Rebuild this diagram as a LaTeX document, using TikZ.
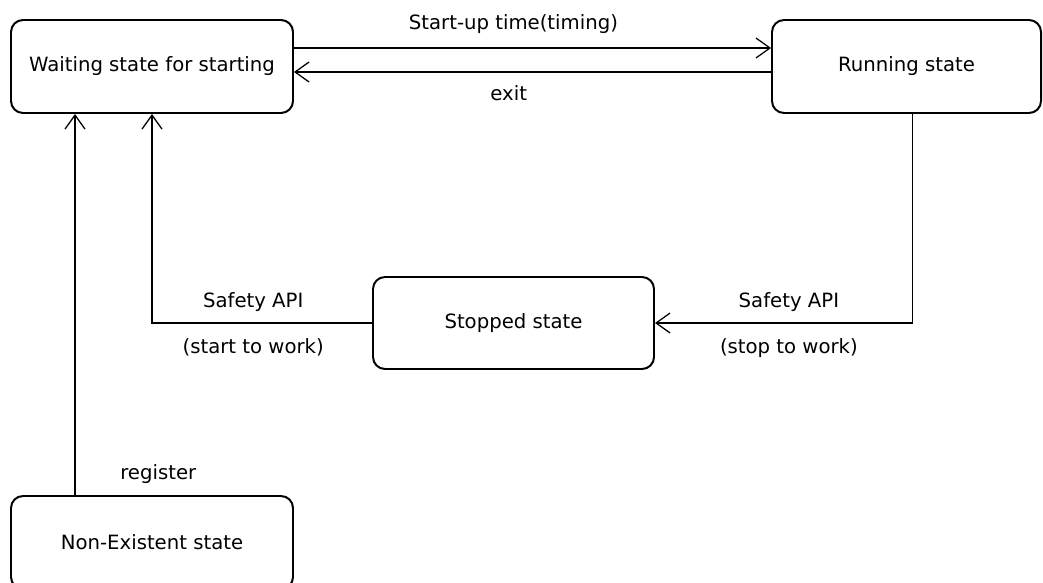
\documentclass[tikz,border=0pt]{standalone}
\usepackage{fontspec}
\setmainfont{DejaVu Sans}
\usetikzlibrary{positioning,arrows.meta}

\begin{document}
\begin{tikzpicture}[
    statebox/.style={draw, line width=1.4pt, rounded corners=0.3cm,
      minimum width=7.05cm, minimum height=2.325cm,
      font=\fontsize{14}{17}\selectfont},
    trans/.style={-{Straight Barb[length=0.35cm,width=0.5cm]}, line width=0.9pt},
    lbl/.style={font=\fontsize{14}{17}\selectfont}
  ]
    \clip (0,0) rectangle (26.075,-14.55);

    % states
    \node[statebox] (wait) at (3.8,-1.6625) {Waiting state for starting};
    \node[statebox, minimum width=6.725cm] (run) at (22.6625,-1.6625) {Running state};
    \node[statebox, minimum width=7.025cm, minimum height=2.3cm] (stop) at (12.8375,-8.075) {Stopped state};
    \node[statebox] (nonex) at (3.8,-13.5625) {Non-Existent state};

    % waiting <-> running
    \draw[trans] ([yshift=0.4625cm]wait.east) -- node[lbl, pos=0.46, above=0.23cm] {Start-up time(timing)} ([yshift=0.4625cm]run.west);
    \draw[trans] ([yshift=-0.1375cm]run.west) -- node[lbl, pos=0.55, below=0.21cm] {exit} ([yshift=-0.1375cm]wait.east);

    % running -> stopped
    \draw[trans] ([xshift=0.15cm]run.south) |- (stop.east)
      node[lbl, pos=0.74, above=0.16cm] {Safety API}
      node[lbl, pos=0.74, below=0.26cm] {(stop to work)};

    % stopped -> waiting
    \draw[trans] (stop.west) -| (wait.south)
      node[lbl, pos=0.27, above=0.16cm] {Safety API}
      node[lbl, pos=0.27, below=0.26cm] {(start to work)};

    % non-existent -> waiting
    \draw[trans] ([xshift=-1.925cm]nonex.north) -- node[lbl, pos=0.055, right=1.0cm] {register} ([xshift=-1.925cm]wait.south);
  \end{tikzpicture}
\end{document}
